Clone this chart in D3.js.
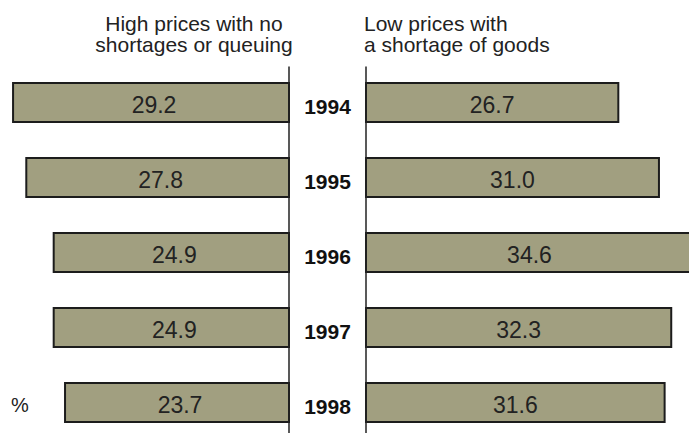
<!DOCTYPE html>
<html>
<head>
<meta charset="utf-8">
<script src="https://d3js.org/d3.v7.min.js"></script>
<style>
  body { margin: 0; background: #fff; }
  svg { display: block; }
  text { font-family: Arial, "Liberation Sans", sans-serif; }
</style>
</head>
<body>
<svg id="chart"></svg>
<script>
// data
var years = ["1994", "1995", "1996", "1997", "1998"];
var highPrices = [29.2, 27.8, 24.9, 24.9, 23.7];
var lowPrices = [26.7, 31.0, 34.6, 32.3, 31.6];
var headLeft = ["High prices with no", "shortages or queuing"];
var headRight = ["Low prices with", "a shortage of goods"];

var width = 689, height = 433;
var axisLeft = 289, axisRight = 366;

var svg = d3.select("#chart")
  .attr("width", width)
  .attr("height", height);

// scales
var xL = d3.scaleLinear().domain([0, 30]).range([axisLeft, axisLeft - 283.5]);
var xR = d3.scaleLinear().domain([0, 30]).range([axisRight, axisRight + 283.5]);
var y = d3.scaleBand()
  .domain(years)
  .range([65, 440])
  .paddingInner(0.48)
  .paddingOuter(0.24);

// headers
svg.append("text")
  .attr("x", 194)
  .attr("y", 30.5)
  .attr("text-anchor", "middle")
  .attr("font-size", "21px")
  .attr("fill", "#222")
  .selectAll("tspan")
  .data(headLeft)
  .enter().append("tspan")
  .attr("x", 194)
  .attr("dy", function (d, i) { return i == 0 ? 0 : 21; })
  .text(function (d) { return d; });

svg.append("text")
  .attr("x", 364)
  .attr("y", 30.5)
  .attr("font-size", "21px")
  .attr("fill", "#222")
  .selectAll("tspan")
  .data(headRight)
  .enter().append("tspan")
  .attr("x", 364)
  .attr("dy", function (d, i) { return i == 0 ? 0 : 21; })
  .text(function (d) { return d; });

// bars left
svg.append("g").selectAll("rect")
  .data(years)
  .enter().append("rect")
  .attr("x", function (d, i) { return xL(highPrices[i]); })
  .attr("y", function (d) { return y(d); })
  .attr("width", function (d, i) { return axisLeft - xL(highPrices[i]); })
  .attr("height", y.bandwidth())
  .attr("fill", "#a19f80")
  .attr("stroke", "#1c1c1c")
  .attr("stroke-width", 2);

// bars right
svg.append("g").selectAll("rect")
  .data(years)
  .enter().append("rect")
  .attr("x", axisRight)
  .attr("y", function (d) { return y(d); })
  .attr("width", function (d, i) { return xR(lowPrices[i]) - axisRight; })
  .attr("height", y.bandwidth())
  .attr("fill", "#a19f80")
  .attr("stroke", "#1c1c1c")
  .attr("stroke-width", 2);

// axis lines
svg.selectAll(".axis")
  .data([axisLeft, axisRight])
  .enter().append("line")
  .attr("x1", function (d) { return d; })
  .attr("x2", function (d) { return d; })
  .attr("y1", 66.5)
  .attr("y2", height)
  .attr("stroke", "#222")
  .attr("stroke-width", 1.5);

// value labels
svg.append("g").selectAll("text")
  .data(years)
  .enter().append("text")
  .attr("x", function (d, i) { return (xL(highPrices[i]) + axisLeft) / 2 + 3; })
  .attr("y", function (d) { return y(d) + y.bandwidth() / 2 + 10; })
  .attr("text-anchor", "middle")
  .attr("font-size", "23px")
  .attr("fill", "#222")
  .text(function (d, i) { return highPrices[i].toFixed(1); });

svg.append("g").selectAll("text")
  .data(years)
  .enter().append("text")
  .attr("x", function (d, i) { return (xR(lowPrices[i]) + axisRight) / 2; })
  .attr("y", function (d) { return y(d) + y.bandwidth() / 2 + 10; })
  .attr("text-anchor", "middle")
  .attr("font-size", "23px")
  .attr("fill", "#222")
  .text(function (d, i) { return lowPrices[i].toFixed(1); });

// year labels
svg.append("g").selectAll("text")
  .data(years)
  .enter().append("text")
  .attr("x", (axisLeft + axisRight) / 2)
  .attr("y", function (d) { return y(d) + y.bandwidth() / 2 + 11; })
  .attr("text-anchor", "middle")
  .attr("font-size", "21px")
  .attr("font-weight", "bold")
  .attr("fill", "#111")
  .text(function (d) { return d; });

// unit
svg.append("text")
  .attr("x", 11)
  .attr("y", 412)
  .attr("font-size", "20px")
  .attr("fill", "#222")
  .text("%");
</script>
</body>
</html>
